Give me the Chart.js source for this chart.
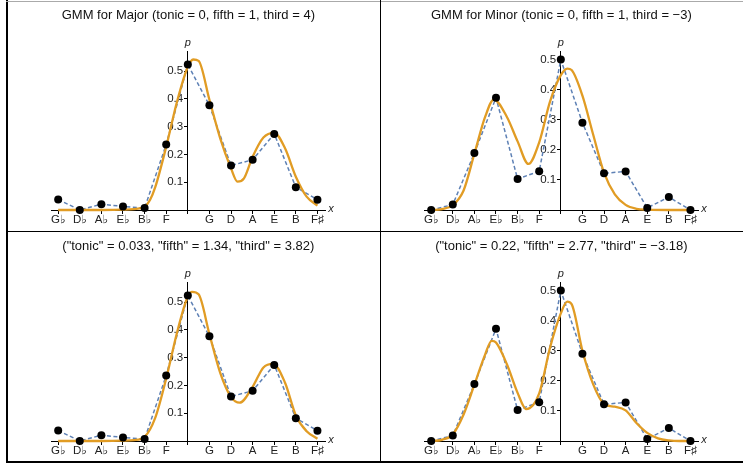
<!DOCTYPE html>
<html>
<head>
<meta charset="utf-8">
<script src="https://cdn.jsdelivr.net/npm/chart.js@4.4.0/dist/chart.umd.min.js"></script>
<style>
  html, body { margin: 0; padding: 0; background: #fff; }
  #grid { position: relative; width: 743px; height: 463px; overflow: hidden; }
  .cell { position: absolute; width: 373px; height: 230px; }
  .cell canvas { display: block; }
  .rule { position: absolute; background: #000; }
</style>
</head>
<body>
<div id="grid">
  <div class="cell" style="left:7px;top:1px"><canvas id="c1" width="373" height="230"></canvas></div>
  <div class="cell" style="left:380px;top:1px"><canvas id="c2" width="373" height="230"></canvas></div>
  <div class="cell" style="left:7px;top:232px"><canvas id="c3" width="373" height="230"></canvas></div>
  <div class="cell" style="left:380px;top:232px"><canvas id="c4" width="373" height="230"></canvas></div>

  <div class="rule" style="left:6px;top:0;width:1.5px;height:463px"></div>
  <div class="rule" style="left:6px;top:1px;width:737px;height:1px;background:#aaa"></div>
  <div class="rule" style="left:380px;top:0;width:1px;height:463px"></div>
  <div class="rule" style="left:6px;top:231px;width:737px;height:1px"></div>
  <div class="rule" style="left:6px;top:461px;width:737px;height:1.5px"></div>
</div>

<script>
// ── Données ──

const PITCH_POS   = [-6, -5, -4, -3, -2, -1, 0, 1, 2, 3, 4, 5, 6];
const PITCH_NAMES = ['G♭', 'D♭', 'A♭', 'E♭', 'B♭', 'F', '', 'G', 'D', 'A', 'E', 'B', 'F♯'];

const TITLES = [
  'GMM for Major (tonic = 0, fifth = 1, third = 4)',
  'GMM for Minor (tonic = 0, fifth = 1, third = \u22123)',
  '("tonic" = 0.033, "fifth" = 1.34, "third" = 3.82)',
  '("tonic" = 0.22, "fifth" = 2.77, "third" = \u22123.18)',
];

// profils observés (points noirs)
const majorProfile = [0.038, 0, 0.021, 0.013, 0.007, 0.236, 0.524, 0.377, 0.16, 0.181, 0.274, 0.082, 0.037];
const minorProfile = [0, 0.018, 0.189, 0.373, 0.103, 0.129, 0.5, 0.29, 0.122, 0.128, 0.007, 0.043, 0];

// courbes orange (GMM), valeurs relevées
const majorGmmX = [-6, -5, -4, -3, -2.5, -2, -1.75, -1.5, -1, -0.5, 0, 0.25, 0.5, 1, 1.5, 2, 2.3, 2.6, 3, 3.5, 4, 4.5, 5, 5.5, 6];
const majorGmmY = [0, 0, 0, 0.001, 0.003, 0.012, 0.036, 0.084, 0.228, 0.39, 0.516, 0.542, 0.537, 0.397, 0.258, 0.15, 0.102, 0.114, 0.192, 0.261, 0.278, 0.222, 0.12, 0.048, 0.016];

const minorGmmX = [-6, -5.5, -5, -4.5, -4, -3.5, -3.1, -2.5, -2, -1.5, -1, -0.5, 0, 0.3, 0.5, 1, 1.5, 2, 2.5, 3, 3.5, 4, 5, 6];
const minorGmmY = [0, 0.003, 0.016, 0.065, 0.187, 0.31, 0.367, 0.31, 0.228, 0.153, 0.225, 0.36, 0.448, 0.47, 0.465, 0.38, 0.25, 0.124, 0.052, 0.017, 0.004, 0.001, 0, 0];

const majorFitX = [-6, -5, -4, -3, -2.5, -2, -1.5, -1, -0.5, 0, 0.2, 0.5, 1, 1.5, 2, 2.4, 3, 3.5, 3.95, 4.5, 5, 5.5, 6];
const majorFitY = [0, 0, 0, 0.001, 0.003, 0.015, 0.085, 0.225, 0.39, 0.52, 0.537, 0.528, 0.385, 0.245, 0.158, 0.138, 0.195, 0.265, 0.278, 0.21, 0.092, 0.035, 0.008];

const minorFitX = [-6, -5.5, -5, -4.5, -4, -3.5, -3.2, -3, -2.5, -2, -1.6, -1, -0.5, 0, 0.3, 0.5, 1, 1.5, 2, 2.5, 3, 3.5, 4, 4.5, 5, 5.5, 6];
const minorFitY = [0, 0.004, 0.022, 0.088, 0.187, 0.288, 0.333, 0.327, 0.256, 0.16, 0.106, 0.158, 0.31, 0.424, 0.463, 0.455, 0.3, 0.188, 0.123, 0.114, 0.102, 0.06, 0.027, 0.009, 0.002, 0, 0];

const MAJOR_YMAX = 0.57;
const MINOR_YMAX = 0.526;

// ── Styles ──

const FONT = '"Liberation Sans", Arial, "DejaVu Sans", sans-serif';
const BLUE = '#5e81b5';
const ORANGE = '#e19c24';

const toPoints = (xs, ys) => xs.map((x, i) => ({ x, y: ys[i] }));

// étiquettes d'axes "p" et "x" en italique
const axisLetters = {
  id: 'axisLetters',
  afterDraw(chart) {
    const { ctx, chartArea, scales } = chart;
    const x0 = scales.x.getPixelForValue(0);
    const y0 = scales.y.getPixelForValue(0);
    ctx.save();
    ctx.fillStyle = '#222';
    ctx.font = 'italic 11px ' + FONT;
    ctx.textAlign = 'center';
    ctx.textBaseline = 'alphabetic';
    ctx.fillText('p', x0, chartArea.top - 6);
    ctx.textBaseline = 'middle';
    ctx.fillText('x', chartArea.right + 6, y0 - 1);
    ctx.restore();
  },
};

function makeChart(id, title, profile, gmmX, gmmY, yMax) {
  const profilePts = toPoints(PITCH_POS, profile);
  return new Chart(document.getElementById(id), {
    type: 'scatter',
    data: {
      datasets: [
        {
          data: profilePts,
          showLine: false,
          pointRadius: 4,
          pointBackgroundColor: '#000',
          pointBorderWidth: 0,
          clip: false,
          order: 1,
        },
        {
          data: toPoints(gmmX, gmmY),
          showLine: true,
          borderColor: ORANGE,
          borderWidth: 2.3,
          pointRadius: 0,
          cubicInterpolationMode: 'monotone',
          clip: false,
          order: 2,
        },
        {
          data: profilePts,
          showLine: true,
          borderColor: BLUE,
          borderWidth: 1.5,
          borderDash: [4, 2.5],
          pointRadius: 0,
          clip: false,
          order: 3,
        },
      ],
    },
    options: {
      responsive: false,
      animation: false,
      events: [],
      layout: { padding: { left: 44.7, right: 55, top: 6.5, bottom: 21 } },
      plugins: {
        legend: { display: false },
        tooltip: { enabled: false },
        title: {
          display: true,
          text: title,
          color: '#111',
          font: { family: FONT, size: 13, weight: 'normal' },
          padding: { top: 0, bottom: 28.6 },
        },
      },
      scales: {
        x: {
          type: 'linear',
          position: { y: 0 },
          min: -6.3,
          max: 6.35,
          afterFit: s => { s.height = 0; },
          border: { display: true, color: '#000', width: 1 },
          grid: { drawOnChartArea: false, drawTicks: true, tickLength: 3, color: '#000' },
          ticks: {
            stepSize: 1,
            includeBounds: false,
            autoSkip: false,
            maxRotation: 0,
            padding: 0,
            color: '#222',
            font: { family: FONT, size: 11.5 },
            callback: v => {
              const i = PITCH_POS.indexOf(Math.round(v));
              return Math.abs(v - Math.round(v)) < 1e-6 && i >= 0 ? PITCH_NAMES[i] : '';
            },
          },
        },
        y: {
          type: 'linear',
          position: { x: 0 },
          min: 0,
          max: yMax,
          afterFit: s => { s.width = 0; },
          border: { display: true, color: '#000', width: 1 },
          grid: { drawOnChartArea: false, drawTicks: true, tickLength: 3, color: '#000' },
          ticks: {
            stepSize: 0.1,
            includeBounds: false,
            padding: 0,
            color: '#222',
            font: { family: FONT, size: 11.5 },
            // espace fine finale : décale le texte à gauche de l'axe
            callback: v => (Math.abs(v) < 1e-9 ? '' : v.toFixed(1) + '\u2009\u2009'),
          },
        },
      },
    },
    plugins: [axisLetters],
  });
}

makeChart('c1', TITLES[0], majorProfile, majorGmmX, majorGmmY, MAJOR_YMAX);
makeChart('c2', TITLES[1], minorProfile, minorGmmX, minorGmmY, MINOR_YMAX);
makeChart('c3', TITLES[2], majorProfile, majorFitX, majorFitY, MAJOR_YMAX);
makeChart('c4', TITLES[3], minorProfile, minorFitX, minorFitY, MINOR_YMAX);
</script>
</body>
</html>
